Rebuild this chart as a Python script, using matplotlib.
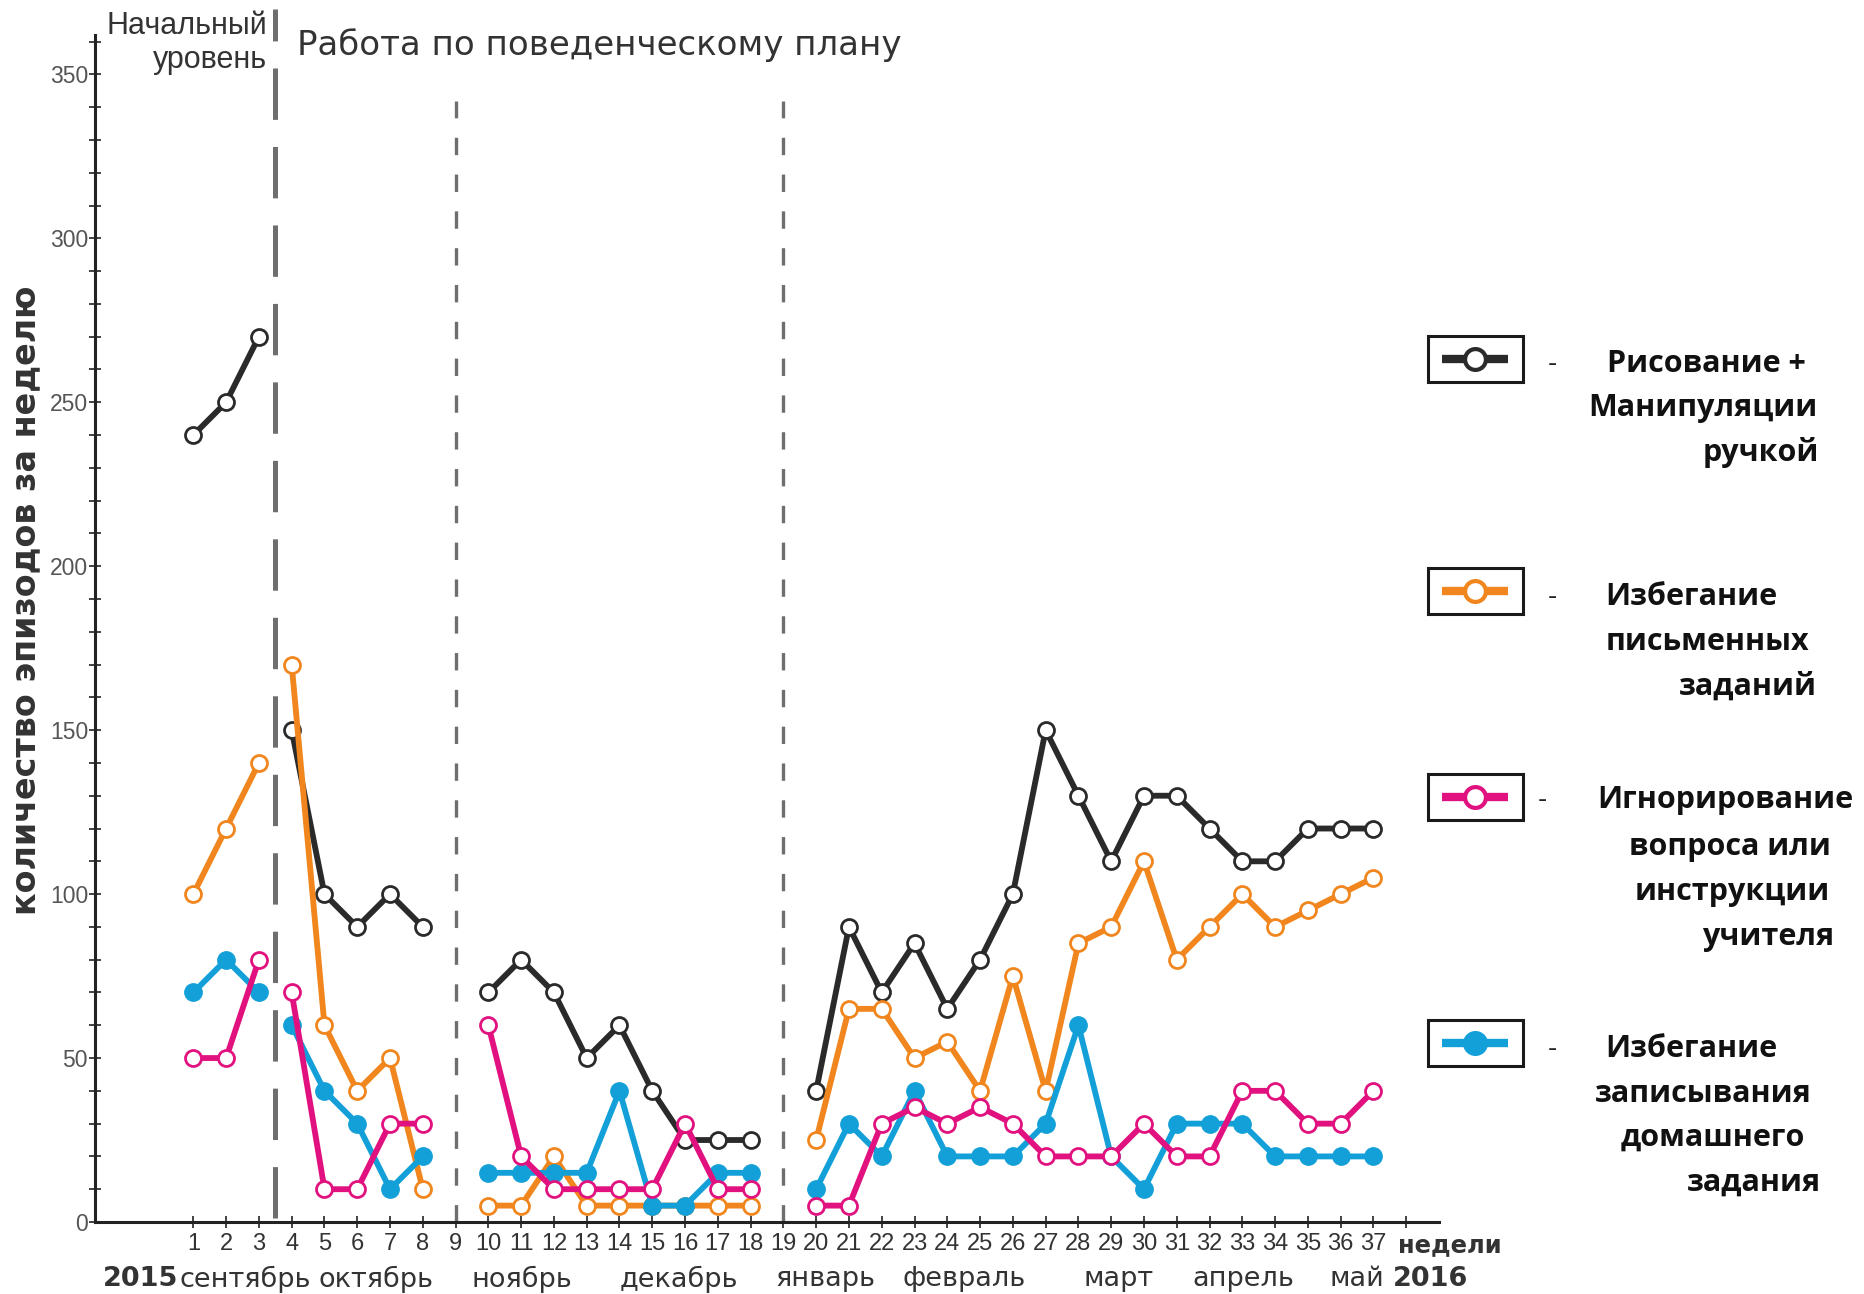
import numpy as np
import matplotlib
matplotlib.use("Agg")
from matplotlib import pyplot as plt
from matplotlib import font_manager
from matplotlib.lines import Line2D
from matplotlib.patches import Rectangle

"""
Weekly behaviour episodes: baseline (weeks 1-3) and work on the behaviour plan (weeks 4-37).
Values read off the original chart; weeks 9 and 19 are holidays (no data).
"""
# ######################################### Data ######################################################

nan = np.nan
weeks = list(range(1, 38))

drawing = [240, 250, 270, 150, 100, 90, 100, 90, nan,
           70, 80, 70, 50, 60, 40, 25, 25, 25, nan,
           40, 90, 70, 85, 65, 80, 100, 150, 130, 110, 130, 130, 120, 110, 110, 120, 120, 120]
writing_avoid = [100, 120, 140, 170, 60, 40, 50, 10, nan,
                 5, 5, 20, 5, 5, 5, 5, 5, 5, nan,
                 25, 65, 65, 50, 55, 40, 75, 40, 85, 90, 110, 80, 90, 100, 90, 95, 100, 105]
ignoring = [50, 50, 80, 70, 10, 10, 30, 30, nan,
            60, 20, 10, 10, 10, 10, 30, 10, 10, nan,
            5, 5, 30, 35, 30, 35, 30, 20, 20, 20, 30, 20, 20, 40, 40, 30, 30, 40]
homework_avoid = [70, 80, 70, 60, 40, 30, 10, 20, nan,
                  15, 15, 15, 15, 40, 5, 5, 15, 15, nan,
                  10, 30, 20, 40, 20, 20, 20, 30, 60, 20, 10, 30, 30, 30, 20, 20, 20, 20]

# separate line pieces (baseline | plan | plan | plan)
segments = [(1, 3), (4, 8), (10, 18), (20, 37)]

legend_lines = [["Рисование +", "Манипуляции", "ручкой"],
                ["Избегание", "письменных", "заданий"],
                ["Игнорирование", "вопроса или", "инструкции", "учителя"],
                ["Избегание", "записывания", "домашнего", "задания"]]

months = ["сентябрь", "октябрь", "ноябрь", "декабрь", "январь", "февраль", "март", "апрель", "май"]

# ######################################### Style #####################################################

BLACK = "#2a2a2a"
ORANGE = "#f0861d"
PINK = "#e1127f"
BLUE = "#13a0d8"
GREY = "#6e6e6e"

names = {f.name for f in font_manager.fontManager.ttflist}
have_narrow = "Liberation Sans Narrow" in names
NARROW = "Liberation Sans Narrow" if have_narrow else "Liberation Sans"
SANS = "Liberation Sans"
BOLDSANS = "Open Sans" if "Open Sans" in names else "DejaVu Sans"

W, H = 1865, 1294


def fx(x):
    return x / W


def fy(y):
    return 1 - y / H


fig = plt.figure(figsize=(W / 100, H / 100), dpi=100)
ax = fig.add_axes([fx(95), fy(1222), (1439 - 95) / W, 1187 / H])

# ######################################### Plot ######################################################

series = [(drawing, BLACK, "hollow"), (writing_avoid, ORANGE, "hollow"),
          (homework_avoid, BLUE, "filled"), (ignoring, PINK, "hollow")]

for z, (vals, col, kind) in enumerate(series):
    for a, b in segments:
        xs = weeks[a - 1:b]
        ys = vals[a - 1:b]
        if kind == "hollow":
            ax.plot(xs, ys, color=col, lw=4.2, marker="o", ms=11.5, mfc="white", mec=col, mew=2,
                    zorder=3 + z, clip_on=False)
        else:
            ax.plot(xs, ys, color=col, lw=4.2, marker="o", ms=12.5, mfc=col, mec=col,
                    zorder=3 + z, clip_on=False)

# phase change line and holiday lines
plt.rcParams["lines.scale_dashes"] = False
ax.plot([3.5, 3.5], [1.2, 370], color=GREY, lw=3.6, dashes=(37, 19.5), clip_on=False, zorder=2)
for wk in (9, 19):
    ax.plot([wk, wk], [0, 342], color=GREY, lw=2.4, dashes=(12.5, 14), clip_on=False, zorder=2)

# ######################################### Axes ######################################################

ax.set_xlim(-2, 39)
ax.set_ylim(0, 362)
for s in ("top", "right"):
    ax.spines[s].set_visible(False)
for s in ("left", "bottom"):
    ax.spines[s].set_linewidth(2.2)
    ax.spines[s].set_color("#222222")

ax.set_xticks(list(range(1, 39)))
ax.set_xticklabels([str(w) for w in weeks] + [""])
ax.tick_params(axis="x", direction="inout", length=8, width=1.2, color="#222222", pad=4,
               labelsize=19 if have_narrow else 17, labelcolor="#333333")
for lab in ax.get_xticklabels():
    lab.set_fontfamily(NARROW)

ax.set_yticks(list(range(0, 351, 50)))
ax.set_yticks(list(range(0, 361, 10)), minor=True)
ax.tick_params(axis="y", which="both", direction="inout", length=8, width=1.2, color="#222222",
               pad=1, labelsize=16.5, labelcolor="#555555")
for lab in ax.get_yticklabels():
    lab.set_fontfamily(SANS)

fig.text(fx(26), fy(600), "количество эпизодов за неделю", rotation=90, ha="center", va="center",
         fontsize=24, fontweight="bold", family="DejaVu Sans", color="#333333")

# header texts
fig.text(fx(267), fy(26), "Начальный", ha="right", va="center", family=NARROW,
         fontsize=25 if have_narrow else 22, color="#333333")
fig.text(fx(267), fy(60), "уровень", ha="right", va="center", family=NARROW,
         fontsize=25 if have_narrow else 22, color="#333333")
fig.text(fx(297), fy(45), "Работа по поведенческому плану", ha="left", va="center",
         family="DejaVu Sans", fontsize=24.5, color="#333333")

# bottom labels
month_x = [245, 376, 522, 679, 825, 964, 1119, 1243, 1357]
for m, x in zip(months, month_x):
    fig.text(fx(x), fy(1279), m, ha="center", va="center", family="DejaVu Sans", fontsize=19.5,
             color="#333333")
fig.text(fx(141), fy(1279), "2015", ha="center", va="center", family="DejaVu Sans",
         fontsize=19.5, fontweight="bold", color="#333333")
fig.text(fx(1431), fy(1279), "2016", ha="center", va="center", family="DejaVu Sans",
         fontsize=19.5, fontweight="bold", color="#333333")
fig.text(fx(1450), fy(1245), "недели", ha="center", va="center", family="DejaVu Sans",
         fontsize=17.5, fontweight="bold", color="#333333")

# ######################################### Legend ####################################################

box_y = [359, 591, 797, 1043]
dash_x = [1552, 1552, 1542, 1552]
text_x = [[1706, 1703, 1761], [1691, 1707, 1748], [1725, 1730, 1732, 1768], [1691, 1703, 1713, 1754]]
text_y = [[364, 408, 453], [597, 642, 687], [800, 847, 892, 937], [1049, 1094, 1138, 1183]]

for i, (vals, col, kind) in enumerate(series[:2] + [series[3], series[2]]):
    cy = box_y[i]
    fig.add_artist(Rectangle((fx(1428), fy(cy + 23)), 95 / W, 46 / H, transform=fig.transFigure,
                             fill=False, lw=2.2, ec="#1a1a1a"))
    fig.add_artist(Line2D([fx(1442), fx(1508)], [fy(cy), fy(cy)], transform=fig.transFigure,
                          color=col, lw=6, solid_capstyle="butt"))
    fig.add_artist(Line2D([fx(1475)], [fy(cy)], transform=fig.transFigure, marker="o", ms=15,
                          mfc="white" if kind == "hollow" else col, mec=col, mew=3))
    fig.text(fx(dash_x[i]), fy(text_y[i][0]), "-", ha="center", va="center", fontsize=20,
             family=SANS, color="#222222")
    for line, x, y in zip(legend_lines[i], text_x[i], text_y[i]):
        fig.text(fx(x), fy(y), line, ha="center", va="center", fontsize=22, fontweight="bold",
                 family=BOLDSANS, color="#111111")

fig.savefig("out.png", dpi=100, facecolor="white")
